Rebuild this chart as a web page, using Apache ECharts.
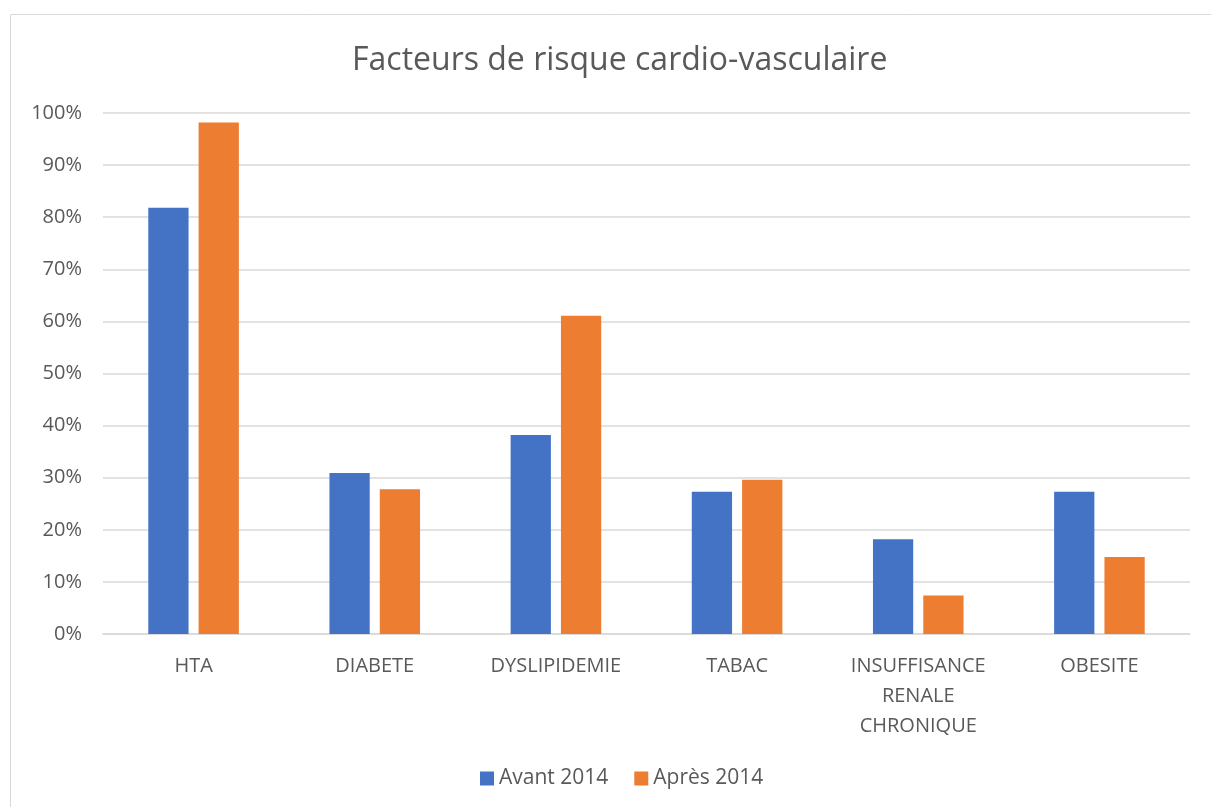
<!DOCTYPE html>
<html>
<head>
<meta charset="utf-8">
<script src="https://cdn.jsdelivr.net/npm/echarts@6/dist/echarts.min.js"></script>
<style>
  html, body { margin: 0; padding: 0; background: #fff; }
  #chart { width: 1211px; height: 807px; }
</style>
</head>
<body>
<div id="chart"></div>
<script>
// facteurs de risque, valeurs en %
var categories = ['HTA', 'DIABETE', 'DYSLIPIDEMIE', 'TABAC', 'INSUFFISANCE\nRENALE\nCHRONIQUE', 'OBESITE'];
var avant2014 = [81.8, 30.9, 38.2, 27.3, 18.2, 27.3];
var apres2014 = [98.2, 27.8, 61.1, 29.6, 7.4, 14.8];
var yTicks = [0, 10, 20, 30, 40, 50, 60, 70, 80, 90, 100];

var font = "'Open Sans', 'Liberation Sans', sans-serif";
var grey = '#595959';

var chart = echarts.init(document.getElementById('chart'), null, {renderer: 'canvas'});
chart.setOption({
    animation: false,
    graphic: [{
        type: 'rect',
        shape: {x: 10.5, y: 14.5, width: 1230, height: 820},
        style: {fill: 'none', stroke: '#d9d9d9', lineWidth: 1}
    }],
    title: {
        text: 'Facteurs de risque cardio-vasculaire',
        left: 347,
        top: 40,
        textStyle: {fontFamily: font, fontSize: 32, fontWeight: 'normal', color: grey}
    },
    legend: {
        top: 763,
        left: 475,
        itemWidth: 14,
        itemHeight: 14,
        itemGap: 26,
        icon: 'rect',
        textStyle: {fontFamily: font, fontSize: 21, color: grey}
    },
    grid: {left: 103, right: 21, top: 113, bottom: 173, containLabel: false},
    xAxis: {
        type: 'category',
        data: categories,
        axisLine: {lineStyle: {color: '#d9d9d9', width: 1.5}},
        axisTick: {show: false},
        axisLabel: {fontFamily: font, fontSize: 20, color: grey, margin: 17, lineHeight: 30}
    },
    yAxis: {
        type: 'value',
        min: 0,
        max: 100,
        interval: 10,
        axisLine: {show: false},
        axisTick: {show: false},
        splitLine: {lineStyle: {color: '#d9d9d9', width: 1.5}},
        axisLabel: {
            fontFamily: font, fontSize: 20, color: grey, margin: 21,
            formatter: function (v) { return yTicks.indexOf(v) >= 0 ? v + '%' : ''; }
        }
    },
    series: [
        {name: 'Avant 2014', type: 'bar', data: avant2014, itemStyle: {color: '#4472c4'},
         barGap: '25%', barCategoryGap: '50%'},
        {name: 'Après 2014', type: 'bar', data: apres2014, itemStyle: {color: '#ed7d31'}}
    ]
});
</script>
</body>
</html>
